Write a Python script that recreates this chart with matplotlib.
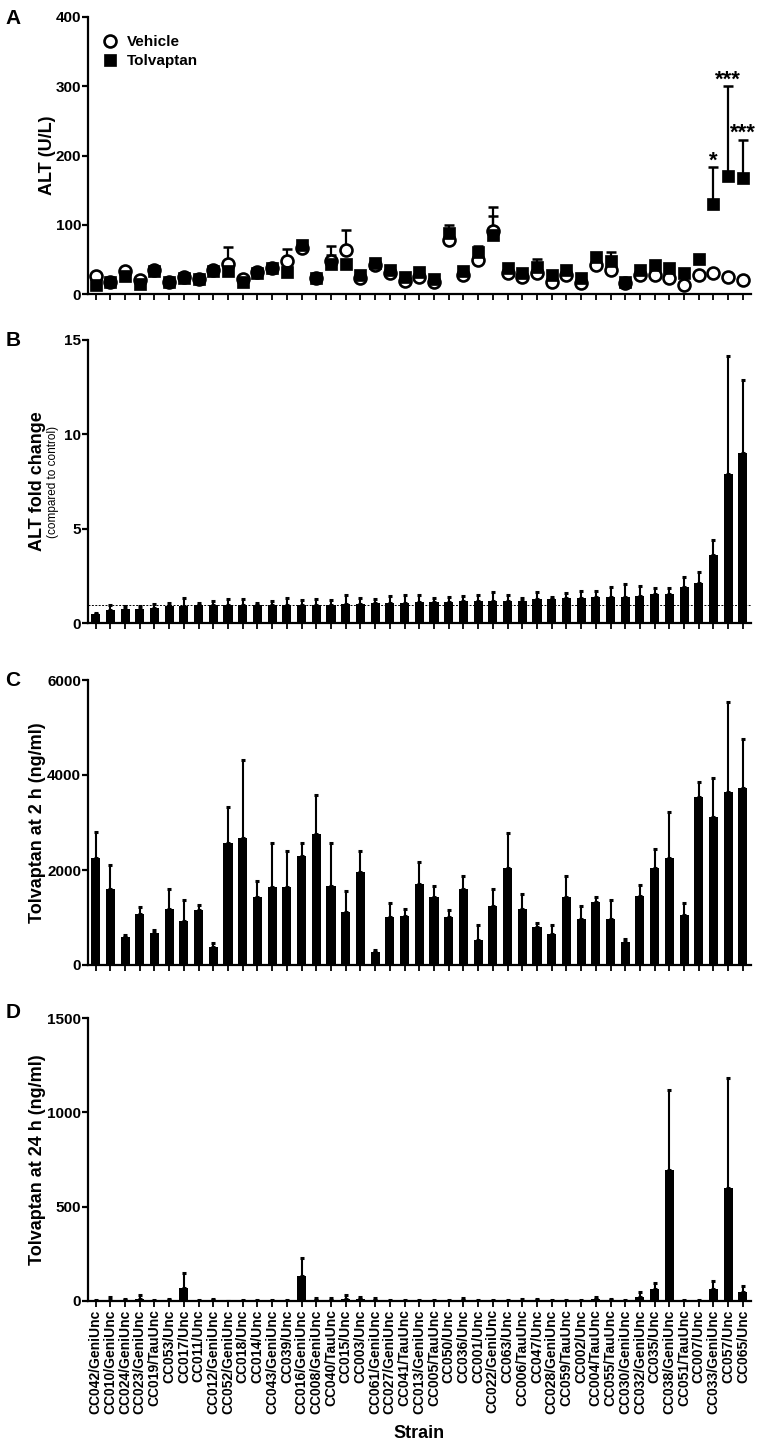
import matplotlib
matplotlib.use("Agg")
import matplotlib.pyplot as plt
import numpy as np

plt.rcParams['font.family'] = ['Liberation Sans', 'DejaVu Sans']
plt.rcParams['font.weight'] = 'bold'

strains = ["CC042/GeniUnc", "CC010/GeniUnc", "CC024/GeniUnc", "CC023/GeniUnc", "CC019/TauUnc",
           "CC053/Unc", "CC017/Unc", "CC011/Unc", "CC012/GeniUnc", "CC052/GeniUnc",
           "CC018/Unc", "CC014/Unc", "CC043/GeniUnc", "CC039/Unc", "CC016/GeniUnc",
           "CC008/GeniUnc", "CC040/TauUnc", "CC015/Unc", "CC003/Unc", "CC061/GeniUnc",
           "CC027/GeniUnc", "CC041/TauUnc", "CC013/GeniUnc", "CC005/TauUnc", "CC050/Unc",
           "CC036/Unc", "CC001/Unc", "CC022/GeniUnc", "CC063/Unc", "CC006/TauUnc",
           "CC047/Unc", "CC028/GeniUnc", "CC059/TauUnc", "CC002/Unc", "CC004/TauUnc",
           "CC055/TauUnc", "CC030/GeniUnc", "CC032/GeniUnc", "CC035/Unc", "CC038/GeniUnc",
           "CC051/TauUnc", "CC007/Unc", "CC033/GeniUnc", "CC057/Unc", "CC065/Unc"]

# Panel A: ALT (U/L)
alt_vehicle = [26, 18, 33, 20, 34, 18, 24, 22, 35, 44, 21, 32, 38, 47, 66, 23, 48, 64, 23, 42,
               30, 19, 25, 18, 78, 27, 49, 91, 30, 25, 30, 18, 27, 16, 42, 35, 16, 27, 27, 23,
               13, 27, 30, 25, 20]
alt_vehicle_sem = [3, 2, 4, 3, 3, 2, 3, 3, 4, 24, 3, 3, 3, 18, 4, 3, 22, 28, 3, 3,
                   3, 3, 3, 3, 6, 3, 4, 35, 3, 3, 3, 3, 3, 2, 4, 4, 2, 3, 3, 3,
                   2, 3, 3, 3, 2]
alt_tolvaptan = [13, 18, 26, 15, 33, 17, 23, 21, 33, 33, 17, 31, 37, 32, 71, 23, 44, 43, 28, 45,
                 34, 24, 32, 22, 88, 33, 61, 85, 37, 30, 39, 28, 35, 23, 54, 47, 17, 34, 42, 37,
                 30, 51, 130, 171, 168]
alt_tolvaptan_sem = [2, 2, 3, 2, 3, 2, 3, 2, 3, 3, 2, 3, 3, 3, 4, 2, 13, 3, 3, 3,
                     3, 3, 4, 3, 11, 3, 9, 28, 3, 3, 12, 3, 3, 3, 4, 14, 2, 3, 4, 3,
                     3, 4, 53, 129, 55]
alt_stars = {42: "*", 43: "***", 44: "***"}

# Panel B: ALT fold change
fold_change = [0.50, 0.74, 0.75, 0.77, 0.83, 0.92, 0.93, 0.96, 0.97, 0.97, 0.97, 0.98, 0.98, 0.98, 0.99,
               0.99, 1.00, 1.01, 1.03, 1.06, 1.10, 1.11, 1.13, 1.15, 1.15, 1.17, 1.17, 1.18, 1.19, 1.20,
               1.29, 1.31, 1.33, 1.34, 1.38, 1.38, 1.40, 1.48, 1.54, 1.55, 1.91, 2.16, 3.62, 7.90, 9.03]
fold_change_sem = [0.03, 0.23, 0.17, 0.17, 0.19, 0.18, 0.40, 0.10, 0.23, 0.30, 0.33, 0.10, 0.20, 0.35, 0.26,
                   0.31, 0.24, 0.49, 0.30, 0.23, 0.35, 0.39, 0.39, 0.21, 0.26, 0.31, 0.33, 0.48, 0.33, 0.14,
                   0.39, 0.10, 0.28, 0.37, 0.32, 0.56, 0.68, 0.48, 0.33, 0.31, 0.53, 0.56, 0.81, 6.27, 3.87]

# Panel C: Tolvaptan at 2 h (ng/ml)
tolv_2h = [2250, 1608, 585, 1065, 677, 1178, 917, 1164, 388, 2575, 2674, 1439, 1640, 1644, 2293,
           2758, 1658, 1115, 1961, 282, 1016, 1037, 1707, 1425, 1002, 1608, 529, 1249, 2039, 1178,
           797, 656, 1425, 974, 1319, 974, 480, 1460, 2046, 2250, 1058, 3541, 3125, 3633, 3718]
tolv_2h_sem = [550, 501, 50, 155, 63, 423, 459, 92, 71, 741, 1636, 325, 921, 755, 268,
               812, 903, 444, 445, 35, 296, 148, 466, 233, 162, 262, 318, 359, 748, 325,
               85, 191, 459, 261, 106, 402, 70, 233, 402, 974, 240, 304, 819, 1905, 1030]

# Panel D: Tolvaptan at 24 h (ng/ml)
tolv_24h = [1, 7, 4, 10, 2, 3, 70, 1, 4, 0, 1, 1, 0, 1, 130, 7, 6, 10, 9, 3,
            0, 1, 1, 1, 2, 5, 1, 1, 2, 2, 3, 1, 1, 2, 8, 4, 2, 19, 65, 693,
            2, 1, 65, 599, 46]
tolv_24h_sem = [2, 14, 8, 22, 3, 5, 80, 4, 8, 2, 4, 4, 3, 4, 97, 7, 12, 22, 12, 11,
                3, 4, 3, 3, 4, 11, 4, 4, 3, 6, 5, 2, 3, 5, 12, 6, 4, 29, 30, 428,
                4, 5, 42, 583, 31]

W, H = 760, 1442
fig = plt.figure(figsize=(W / 100, H / 100), dpi=100)

def px_axes(left, right, top, bottom):
    return fig.add_axes([left / W, 1 - bottom / H, (right - left) / W, (bottom - top) / H])

ax_left, ax_right = 88, 751
axA = px_axes(ax_left, ax_right, 17, 294)
axB = px_axes(ax_left, ax_right, 340, 623.5)
axC = px_axes(ax_left, ax_right, 680, 965)
axD = px_axes(ax_left, ax_right, 1018, 1301)

x = np.arange(len(strains))
XLIM = (-0.52, 44.55)

def style(ax, ymax, yticks):
    for s in ['top', 'right']:
        ax.spines[s].set_visible(False)
    for s in ['left', 'bottom']:
        ax.spines[s].set_linewidth(1.6)
    ax.set_xlim(*XLIM)
    ax.set_ylim(0, ymax)
    ax.set_yticks(yticks)
    ax.set_xticks(x)
    ax.tick_params(axis='y', length=4, width=1.6, labelsize=11, pad=1)
    ax.tick_params(axis='x', length=4, width=1.3, labelsize=10, pad=2)
    for lab in ax.get_yticklabels():
        lab.set_fontweight('bold')

# ---- Panel A ----
zeros = np.zeros(len(x))
axA.errorbar(x, alt_vehicle, yerr=[zeros, alt_vehicle_sem], fmt='none', ecolor='black',
             elinewidth=1.6, capsize=3.6, capthick=1.8, zorder=2)
axA.errorbar(x, alt_tolvaptan, yerr=[zeros, alt_tolvaptan_sem], fmt='none', ecolor='black',
             elinewidth=1.6, capsize=3.6, capthick=1.8, zorder=2)
axA.plot(x, alt_vehicle, 'o', ms=8.6, mfc='white', mec='black', mew=1.9, zorder=3, label='Vehicle',
         clip_on=False)
axA.plot(x, alt_tolvaptan, 's', ms=8.4, mfc='black', mec='black', mew=0.5, zorder=4, label='Tolvaptan',
         clip_on=False)
for i, s in alt_stars.items():
    axA.annotate(s, (x[i], alt_tolvaptan[i] + alt_tolvaptan_sem[i]), xytext=(0, -3),
                 textcoords='offset points', ha='center', va='bottom', fontsize=16, fontweight='bold')
style(axA, 400, [0, 100, 200, 300, 400])
axA.set_xticklabels([])
leg = axA.legend(loc='upper left', bbox_to_anchor=(0.008, 0.968), frameon=False, fontsize=11,
                 handlelength=1.0, handletextpad=0.6, labelspacing=0.35, borderaxespad=0.2)
for t in leg.get_texts():
    t.set_fontweight('bold')

# ---- Panel B ----
axB.bar(x, fold_change, width=0.62, color='black', zorder=2)
axB.errorbar(x, fold_change, yerr=[zeros, fold_change_sem], fmt='none', ecolor='black',
             elinewidth=1.5, capsize=1.5, capthick=2.2, zorder=2)
axB.axhline(1, color='black', lw=0.7, ls=(0, (2, 1.5)), zorder=3)
style(axB, 15, [0, 5, 10, 15])
axB.set_xticklabels([])

# ---- Panel C ----
axC.bar(x, tolv_2h, width=0.62, color='black', zorder=2)
axC.errorbar(x, tolv_2h, yerr=[zeros, tolv_2h_sem], fmt='none', ecolor='black',
             elinewidth=1.5, capsize=1.5, capthick=2.2, zorder=2)
style(axC, 6000, [0, 2000, 4000, 6000])
axC.set_xticklabels([])

# ---- Panel D ----
axD.bar(x, tolv_24h, width=0.62, color='black', zorder=2)
axD.errorbar(x, tolv_24h, yerr=[zeros, tolv_24h_sem], fmt='none', ecolor='black',
             elinewidth=1.5, capsize=1.5, capthick=2.2, zorder=2)
style(axD, 1500, [0, 500, 1000, 1500])
axD.set_xticklabels(strains, rotation=90, fontsize=10, fontweight='bold')
axD.set_xlabel('Strain', fontsize=13, fontweight='bold', labelpad=8)

# y labels
def ftext(px, py, s, **kw):
    fig.text(px / W, 1 - py / H, s, rotation=90, ha='center', va='center', **kw)

ftext(47, 155.5, 'ALT (U/L)', fontsize=13, fontweight='bold')
ftext(38, 481.5, 'ALT fold change', fontsize=13, fontweight='bold')
ftext(53, 481.5, '(compared to control)', fontsize=8.5, fontweight='normal')
ftext(38, 822.5, 'Tolvaptan at 2 h (ng/ml)', fontsize=13, fontweight='bold')
ftext(38, 1159.5, 'Tolvaptan at 24 h (ng/ml)', fontsize=13, fontweight='bold')

# panel letters
for lab, py in [('A', 19), ('B', 341), ('C', 681), ('D', 1012)]:
    fig.text(13 / W, 1 - py / H, lab, ha='center', va='center', fontsize=15, fontweight='bold')

fig.savefig('out.png', dpi=100, facecolor='white')
